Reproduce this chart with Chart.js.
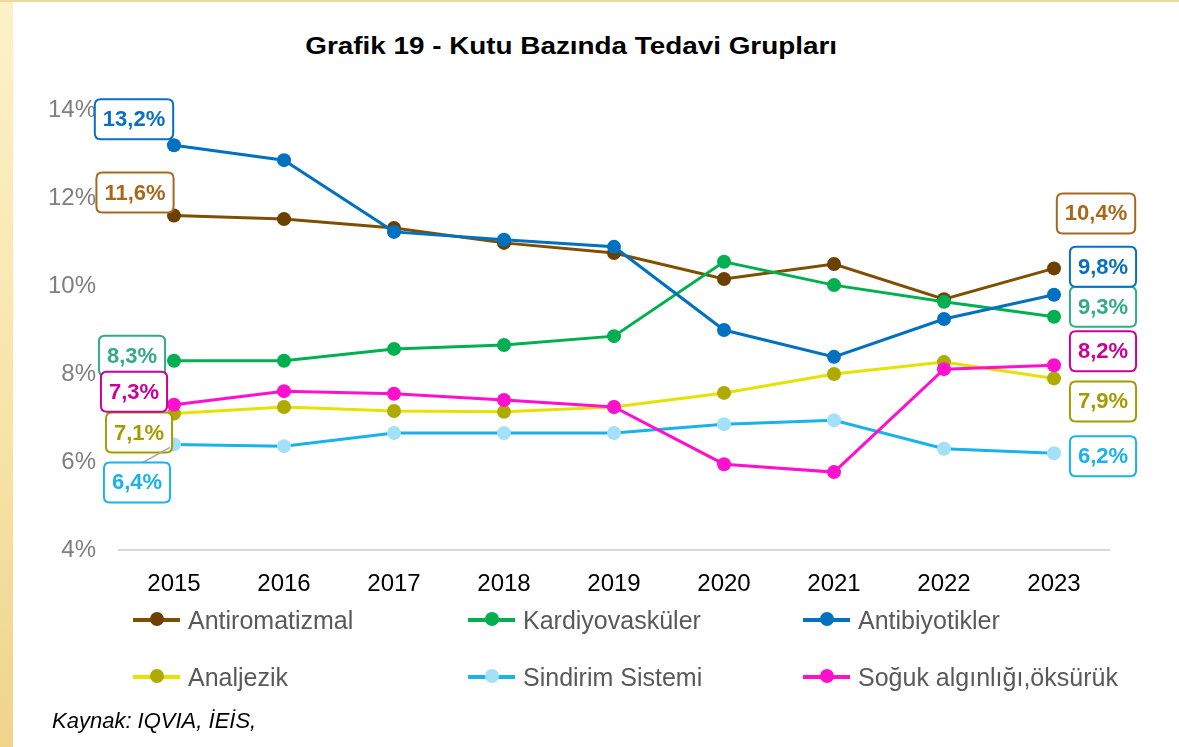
<!DOCTYPE html>
<html lang="tr">
<head>
<meta charset="utf-8">
<title>Grafik 19 - Kutu Bazında Tedavi Grupları</title>
<script src="https://cdn.jsdelivr.net/npm/chart.js@4/dist/chart.umd.min.js"></script>
<style>
  html, body { margin: 0; padding: 0; background: #fff; }
  body { width: 1179px; height: 747px; position: relative; overflow: hidden;
         font-family: "Liberation Sans", Arial, sans-serif; }
  .frame-left { position: absolute; left: 0; top: 0; width: 13px; height: 747px;
                background: linear-gradient(#fdf1c8, #f6e3a6 60%, #efd48c); }
  .frame-top { position: absolute; left: 0; top: 0; width: 1179px; height: 2px; background: #efd89a; }
  #title { position: absolute; left: 0; width: 1142px; top: 32px; text-align: center;
           font-weight: bold; font-size: 24px; color: #000; }
  #title span { display: inline-block; transform: scaleX(1.16); }
  #chart { position: absolute; left: 0; top: 0; }
  .legend-item { position: absolute; height: 30px; display: flex; align-items: center; }
  .legend-mark { position: relative; width: 47px; height: 4px; margin-right: 8px; }
  .legend-mark i { position: absolute; left: 17px; top: -6px; width: 14px; height: 14px; border-radius: 50%; }
  .legend-text { font-size: 25px; color: #595959; white-space: nowrap; }
  #source { position: absolute; left: 52px; top: 708px; font-size: 22px; font-style: italic; color: #000; }
</style>
</head>
<body>
<div class="frame-left"></div>
<div class="frame-top"></div>
<div id="title"><span>Grafik 19 - Kutu Bazında Tedavi Grupları</span></div>
<canvas id="chart" width="1179" height="747"></canvas>
<div id="legend"></div>
<div id="source">Kaynak: IQVIA, İEİS,</div>

<script>
// categories
const years = ['2015', '2016', '2017', '2018', '2019', '2020', '2021', '2022', '2023'];

// series values (%)
const antiromatizmal = [11.6, 11.52, 11.32, 10.98, 10.75, 10.16, 10.5, 9.7, 10.4];
const kardiyovaskuler = [8.3, 8.3, 8.57, 8.66, 8.86, 10.55, 10.02, 9.64, 9.3];
const antibiyotikler = [13.2, 12.86, 11.23, 11.05, 10.89, 9.0, 8.39, 9.25, 9.8];
const analjezik = [7.1, 7.25, 7.16, 7.14, 7.25, 7.57, 8.0, 8.27, 7.9];
const sindirim = [6.4, 6.36, 6.66, 6.66, 6.66, 6.86, 6.95, 6.3, 6.2];
const soguk = [7.3, 7.61, 7.55, 7.41, 7.25, 5.95, 5.77, 8.11, 8.2];

// y axis ticks
const yTicks = [4, 6, 8, 10, 12, 14];

// series styling: line, marker, label colour, label offsets for first / last point
const series = [
    { label: 'Antiromatizmal', data: antiromatizmal, line: '#7f4f00', marker: '#6b4000', tag: '#a8681c',
      first: [-39, -23], last: [42, -55] },
    { label: 'Kardiyovasküler', data: kardiyovaskuler, line: '#00b050', marker: '#00b050', tag: '#33aa88',
      first: [-42, -5], last: [49, -10] },
    { label: 'Antibiyotikler', data: antibiyotikler, line: '#0070c0', marker: '#0070c0', tag: '#0a6fc4',
      first: [-40, -26], last: [49, -28] },
    { label: 'Analjezik', data: analjezik, line: '#e6e200', marker: '#aeaa00', tag: '#a29c00',
      first: [-35, 19], last: [49, 23] },
    { label: 'Sindirim Sistemi', data: sindirim, line: '#1ab2ea', marker: '#a3e0f9', tag: '#1ab2ea',
      first: [-37, 38], last: [49, 3], leader: true },
    { label: 'Soğuk algınlığı,öksürük', data: soguk, line: '#ff10cf', marker: '#ff10cf', tag: '#cc0099',
      first: [-40, -13], last: [49, -14] },
];

const datasets = series.map((s, i) => ({
    label: s.label,
    data: s.data,
    borderColor: s.line,
    backgroundColor: s.marker,
    pointBackgroundColor: s.marker,
    pointBorderColor: s.marker,
    pointRadius: 7,
    pointBorderWidth: 0,
    borderWidth: 3,
    tension: 0,
    order: series.length - i,
    clip: false,
    tagColor: s.tag,
    tagFirst: s.first,
    tagLast: s.last,
    leader: !!s.leader,
}));

function fmt(v) {
    return v.toFixed(1).replace('.', ',') + '%';
}

function roundRect(ctx, x, y, w, h, r) {
    ctx.beginPath();
    ctx.moveTo(x + r, y);
    ctx.lineTo(x + w - r, y);
    ctx.quadraticCurveTo(x + w, y, x + w, y + r);
    ctx.lineTo(x + w, y + h - r);
    ctx.quadraticCurveTo(x + w, y + h, x + w - r, y + h);
    ctx.lineTo(x + r, y + h);
    ctx.quadraticCurveTo(x, y + h, x, y + h - r);
    ctx.lineTo(x, y + r);
    ctx.quadraticCurveTo(x, y, x + r, y);
    ctx.closePath();
}

// Boxed value labels on the first and last point of each series
const endLabels = {
    id: 'endLabels',
    afterDatasetsDraw(chart) {
        const ctx = chart.ctx;
        ctx.save();
        ctx.font = 'bold 22px "Liberation Sans", Arial, sans-serif';
        ctx.textAlign = 'center';
        ctx.textBaseline = 'middle';
        chart.data.datasets.forEach((ds, di) => {
            const meta = chart.getDatasetMeta(di);
            const last = ds.data.length - 1;
            [[0, ds.tagFirst], [last, ds.tagLast]].forEach(([idx, off]) => {
                const pt = meta.data[idx];
                const text = fmt(ds.data[idx]);
                const w = ctx.measureText(text).width + 16;
                const h = 40;
                const cx = pt.x + off[0];
                const cy = pt.y + off[1];
                if (ds.leader && idx === 0) {
                    ctx.strokeStyle = '#a6a6a6';
                    ctx.lineWidth = 1.5;
                    ctx.beginPath();
                    ctx.moveTo(cx + 6, cy - h / 2);
                    ctx.lineTo(pt.x - 4, pt.y + 3);
                    ctx.stroke();
                }
                roundRect(ctx, cx - w / 2, cy - h / 2, w, h, 6);
                ctx.fillStyle = '#fff';
                ctx.fill();
                ctx.strokeStyle = ds.tagColor;
                ctx.lineWidth = 2;
                ctx.stroke();
                ctx.fillStyle = ds.tagColor;
                ctx.fillText(text, cx, cy + 1);
            });
        });
        ctx.restore();
    }
};

new Chart(document.getElementById('chart'), {
    type: 'line',
    data: { labels: years, datasets },
    options: {
        responsive: false,
        animation: false,
        devicePixelRatio: 1,
        layout: { padding: { left: 0, right: 70, top: 110, bottom: 0 } },
        plugins: {
            legend: { display: false },
            tooltip: { enabled: false },
            title: { display: false },
        },
        scales: {
            x: {
                offset: true,
                grid: { display: false, drawTicks: false },
                border: { display: true, color: '#d9d9d9', width: 2 },
                ticks: {
                    color: '#000',
                    padding: 20,
                    font: { family: '"Liberation Sans", Arial, sans-serif', size: 24 },
                },
                afterFit(scale) { scale.height = 197; },
            },
            y: {
                min: 4,
                max: 14,
                afterBuildTicks(scale) { scale.ticks = yTicks.map(v => ({ value: v })); },
                grid: { display: false, drawTicks: false },
                border: { display: false },
                ticks: {
                    color: '#7f7f7f',
                    padding: 23,
                    font: { family: '"Liberation Sans", Arial, sans-serif', size: 24 },
                    callback: v => v + '%',
                },
                afterFit(scale) { scale.width = 119; },
            },
        },
    },
    plugins: [endLabels],
});

// Legend: 2 rows x 3 columns, built from the series list
const legendCols = [133, 468, 803];
const legendRows = [605, 662];
const legend = document.getElementById('legend');
series.forEach((s, i) => {
    const item = document.createElement('div');
    item.className = 'legend-item';
    item.style.left = legendCols[i % 3] + 'px';
    item.style.top = legendRows[Math.floor(i / 3)] + 'px';
    item.innerHTML = '<div class="legend-mark" style="background:' + s.line + '"><i style="background:' +
        s.marker + '"></i></div><span class="legend-text">' + s.label + '</span>';
    legend.appendChild(item);
});
</script>
</body>
</html>
